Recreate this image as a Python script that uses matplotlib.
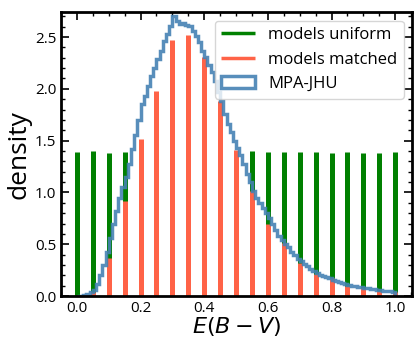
import numpy as np
import matplotlib
matplotlib.use('Agg')
import matplotlib.pyplot as plt

plt.rcParams['font.family'] = ['Open Sans', 'DejaVu Sans']
plt.rcParams['mathtext.fontset'] = 'dejavusans'

# E(B-V) grid of the model bars
ebv_grid = [0.00, 0.05, 0.10, 0.15, 0.20, 0.25, 0.30, 0.35, 0.40, 0.45, 0.50,
            0.55, 0.60, 0.65, 0.70, 0.75, 0.80, 0.85, 0.90, 0.95, 1.00]
uniform_dens = [1.39, 1.40, 1.38, 1.39, 1.40, 1.39, 1.40, 1.39, 1.40, 1.39, 1.40,
                1.40, 1.39, 1.39, 1.39, 1.39, 1.38, 1.39, 1.385, 1.38, 1.39]
matched_dens = [0.0, 0.04, 0.37, 0.92, 1.52, 1.98, 2.47, 2.52, 2.31, 1.88, 1.41,
                1.01, 0.70, 0.515, 0.32, 0.21, 0.17, 0.096, 0.077, 0.05, 0.04]

# MPA-JHU histogram, 100 bins of 0.01 from 0 to 1
mpa_edges = np.linspace(0, 1, 101)
mpa_dens = [0.0, 0.0, 0.01, 0.02, 0.04, 0.06, 0.12, 0.20, 0.30, 0.43,
            0.56, 0.70, 0.82, 0.95, 1.05, 1.15, 1.27, 1.42, 1.55, 1.70,
            1.85, 1.93, 2.03, 2.12, 2.20, 2.29, 2.37, 2.46, 2.53, 2.61,
            2.70, 2.65, 2.63, 2.64, 2.62, 2.61, 2.56, 2.51, 2.45, 2.37,
            2.31, 2.23, 2.16, 2.08, 1.97, 1.88, 1.76, 1.66, 1.58, 1.50,
            1.43, 1.36, 1.27, 1.18, 1.10, 1.01, 0.95, 0.90, 0.85, 0.80,
            0.75, 0.70, 0.64, 0.58, 0.54, 0.50, 0.47, 0.43, 0.40, 0.36,
            0.34, 0.31, 0.29, 0.26, 0.24, 0.22, 0.20, 0.19, 0.18, 0.17,
            0.16, 0.15, 0.14, 0.13, 0.12, 0.11, 0.10, 0.095, 0.09, 0.085,
            0.08, 0.075, 0.07, 0.065, 0.06, 0.055, 0.05, 0.048, 0.045, 0.042]

fig = plt.figure(figsize=(4.15, 3.38), dpi=100)
ax = fig.add_axes([0.147, 0.124, 0.846, 0.840])

ax.vlines(ebv_grid, 0, uniform_dens, color='green', lw=3.6, label='models uniform')
ax.vlines(ebv_grid, 0, matched_dens, color='tomato', lw=3.6, label='models matched')
centers = (mpa_edges[:-1] + mpa_edges[1:]) / 2
ax.hist(centers, bins=mpa_edges, weights=mpa_dens, histtype='step', lw=2.5,
        color='steelblue', alpha=0.9, label='MPA-JHU')

ax.set_xlim(-0.05, 1.053)
ax.set_ylim(0, 2.74)
ax.set_xticks([0.0, 0.2, 0.4, 0.6, 0.8, 1.0])
ax.set_xticks(np.arange(-0.05, 1.06, 0.05), minor=True)
ax.set_yticks([0.0, 0.5, 1.0, 1.5, 2.0, 2.5])
ax.set_yticks(np.arange(0, 2.75, 0.1), minor=True)
ax.tick_params(which='both', direction='in', top=True, right=True, labelsize=11)
ax.tick_params(which='major', length=6, width=1.2)
ax.tick_params(which='minor', length=3, width=1)
for s in ax.spines.values():
    s.set_linewidth(2)

ax.set_xlabel('$E(B-V)$', fontsize=16, labelpad=-1)
ax.set_ylabel('density', fontsize=19, labelpad=2)

leg = ax.legend(loc='upper right', fontsize=12, handlelength=2.0)
for h in leg.legend_handles[:2]:
    h.set_linewidth(2.5)

fig.savefig('out.png', dpi=100)
